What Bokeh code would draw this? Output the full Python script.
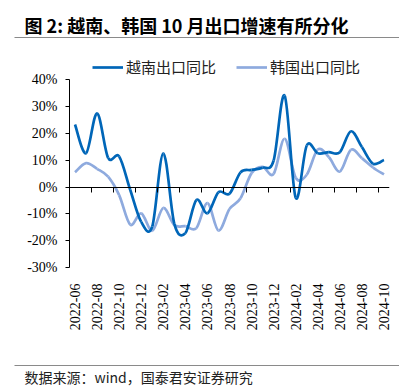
import numpy as np
from bokeh.plotting import figure
from bokeh.layouts import column
from bokeh.models import (Range1d, FixedTicker, LinearAxis, Label,
                          Legend, LegendItem, ColumnDataSource)
from bokeh.embed import file_html
from bokeh.resources import INLINE

months = ["2022-06", "2022-07", "2022-08", "2022-09", "2022-10", "2022-11", "2022-12",
          "2023-01", "2023-02", "2023-03", "2023-04", "2023-05", "2023-06", "2023-07",
          "2023-08", "2023-09", "2023-10", "2023-11", "2023-12", "2024-01", "2024-02",
          "2024-03", "2024-04", "2024-05", "2024-06", "2024-07", "2024-08", "2024-09",
          "2024-10"]
vietnam = [23.3, 12.6, 27.5, 10.9, 11.4, -1.0, -13.0, -14.7, 12.6, -13.7, -17.2, -4.8,
           -9.8, -1.9, -2.5, 5.5, 6.4, 7.2, 9.9, 34.1, -4.0, 15.5, 12.6, 13.0, 13.0, 20.8,
           14.9, 8.7, 10.1]
korea = [5.5, 8.9, 6.8, 3.9, -3.0, -14.0, -9.8, -16.3, -7.8, -14.2, -14.6, -15.3, -6.0,
         -16.2, -8.2, -4.2, 5.2, 7.5, 4.9, 18.0, 3.5, 4.6, 14.0, 11.2, 5.8, 13.9, 10.8,
         7.3, 4.7]
y_ticks = [-30, -20, -10, 0, 10, 20, 30, 40]

title_text = "图 2: 越南、韩国 10 月出口增速有所分化"
source_text = "数据来源：wind，国泰君安证券研究"
name_vn = "越南出口同比"
name_kr = "韩国出口同比"

C_VN = "#0066B8"
C_KR = "#8EAADE"
RULE = "#8a8a8a"

W = 405
H_HEAD = 56
H_CHART = 299
H_FOOT = 32


def tidy(f):
    try:
        f.frame_align = False
    except Exception:
        pass
    try:
        f.title = None
    except Exception:
        f.title.visible = False
    f.background_fill_color = "white"
    f.border_fill_color = "white"


def blank(h):
    f = figure(width=W, height=h, output_backend="svg", toolbar_location=None,
               x_range=Range1d(0, W), y_range=Range1d(0, h),
               x_axis_type=None, y_axis_type=None, outline_line_color=None,
               min_border_left=0, min_border_right=0, min_border_top=0,
               min_border_bottom=0)
    tidy(f)
    return f


def rule(f, y_from_top, h):
    # thin horizontal rule drawn as the filled box of an (empty-looking) label
    f.add_layout(Label(x=14, y=h - y_from_top, text="\u2002", text_font_size="1px",
                       text_baseline="middle", text_align="left",
                       background_fill_color=RULE, background_fill_alpha=1.0,
                       padding=(0, 384, 0, 0)))


def bezier_source(vals):
    y = np.asarray(vals, dtype=float)
    x = np.arange(len(y), dtype=float)
    n = len(y)
    xp = np.concatenate([[x[0]], x, [x[-1]]])
    yp = np.concatenate([[y[0]], y, [y[-1]]])
    x0, y0 = x[:-1], y[:-1]
    x1, y1 = x[1:], y[1:]
    cx0 = x0 + (xp[2:n + 1] - xp[0:n - 1]) / 6.0
    cy0 = y0 + (yp[2:n + 1] - yp[0:n - 1]) / 6.0
    cx1 = x1 - (xp[3:n + 2] - xp[1:n]) / 6.0
    cy1 = y1 - (yp[3:n + 2] - yp[1:n]) / 6.0
    return ColumnDataSource(dict(x0=x0, y0=y0, x1=x1, y1=y1,
                                 cx0=cx0, cy0=cy0, cx1=cx1, cy1=cy1))


# ---------- header ----------
head = blank(H_HEAD)
head.add_layout(Label(x=24, y=H_HEAD - 24, text=title_text,
                      text_font="Noto Sans CJK SC", text_font_style="bold",
                      text_font_size="18px", text_baseline="middle",
                      text_align="left", text_color="black"))
rule(head, 37, H_HEAD)

# ---------- chart ----------
frame_h = 211
px_per_unit = (frame_h - 23.3) / 70.0
y_top = -30 + frame_h / px_per_unit

p = figure(width=W, height=H_CHART, output_backend="svg", toolbar_location=None,
           x_range=Range1d(-0.5, len(months) - 0.5), y_range=Range1d(-30, y_top),
           min_border_left=69, min_border_right=16, min_border_top=0,
           min_border_bottom=H_CHART - frame_h, outline_line_color=None)
tidy(p)
p.xgrid.visible = False
p.ygrid.visible = False

xa = p.xaxis[0]
xa.ticker = FixedTicker(ticks=list(range(0, len(months), 2)))
xa.major_label_overrides = {i: m for i, m in enumerate(months)}
xa.major_label_orientation = np.pi / 2
xa.axis_line_color = None
xa.major_tick_line_color = None
xa.minor_tick_line_color = None
xa.major_label_standoff = 10
xa.major_label_text_font = "Liberation Serif"
xa.major_label_text_font_size = "14px"
xa.major_label_text_color = "black"

za = LinearAxis(fixed_location=0,
                ticker=FixedTicker(ticks=[i - 0.5 for i in range(2, len(months), 2)]),
                axis_line_color="black", axis_line_width=1,
                major_tick_line_color="black", major_tick_in=0, major_tick_out=5,
                minor_tick_line_color=None, major_label_text_alpha=0,
                major_label_text_font_size="1px")
p.add_layout(za, "below")

ya = p.yaxis[0]
ya.ticker = FixedTicker(ticks=y_ticks)
ya.bounds = (-30, 40)
ya.major_label_overrides = {v: f"{v}%" for v in y_ticks}
ya.axis_line_color = "black"
ya.major_tick_line_color = "black"
ya.major_tick_out = 4
ya.major_tick_in = 0
ya.minor_tick_line_color = None
ya.major_label_standoff = 8
ya.major_label_text_font = "Liberation Serif"
ya.major_label_text_font_size = "14px"
ya.major_label_text_color = "black"

r_kr = p.bezier("x0", "y0", "x1", "y1", "cx0", "cy0", "cx1", "cy1",
                source=bezier_source(korea), line_color=C_KR, line_width=2.7)
r_vn = p.bezier("x0", "y0", "x1", "y1", "cx0", "cy0", "cx1", "cy1",
                source=bezier_source(vietnam), line_color=C_VN, line_width=2.7)

legend = Legend(items=[LegendItem(label=name_vn, renderers=[r_vn]),
                       LegendItem(label=name_kr, renderers=[r_kr])],
                orientation="horizontal", location=(23, 190),
                glyph_width=31, glyph_height=16, label_height=16, label_standoff=3,
                spacing=20, padding=0, margin=0,
                border_line_color=None, background_fill_alpha=0,
                label_text_font="Noto Sans CJK SC", label_text_font_size="15px",
                label_text_color="#222222")
p.add_layout(legend, "center")

# ---------- footer ----------
foot = blank(H_FOOT)
rule(foot, 10, H_FOOT)
foot.add_layout(Label(x=24, y=H_FOOT - 21, text=source_text,
                      text_font="Noto Sans CJK SC", text_font_size="14px",
                      text_baseline="middle", text_align="left", text_color="#222222"))

layout = column(head, p, foot, spacing=0)
open("out.html", "w").write(file_html(layout, INLINE))
